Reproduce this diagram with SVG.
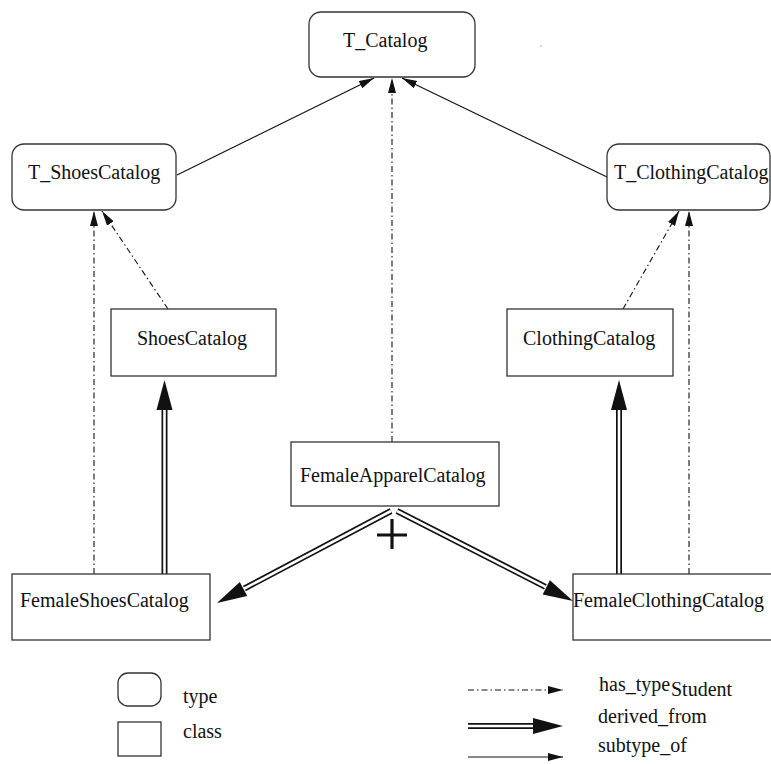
<svg xmlns="http://www.w3.org/2000/svg" width="771" height="764" viewBox="0 0 771 764">
<style>
.box{fill:#fff;stroke:#333;stroke-width:1.3}
.lbl{font-family:"Liberation Serif","Times New Roman",serif;font-size:20px;fill:#111}
.solid{fill:none;stroke:#111;stroke-width:1.2}
.dd{fill:none;stroke:#111;stroke-width:1.1;stroke-dasharray:6 3 1.5 3}
.dblo{fill:none;stroke:#111;stroke-width:6}
.dbli{fill:none;stroke:#fff;stroke-width:2.6}
.head{fill:#111}
</style>
<defs>
<marker id="sa" markerUnits="userSpaceOnUse" markerWidth="16" markerHeight="10" refX="15" refY="4" orient="auto">
<path d="M0,0 L15,4 L0,8 z" fill="#111"/>
</marker>
</defs>
<rect x="0" y="0" width="771" height="764" fill="#fff"/>
<circle cx="541" cy="46" r="0.7" fill="#888"/>

<g id="connectors">
<path class="solid" d="M177,175 L374,78" marker-end="url(#sa)"/>
<path class="solid" d="M607,177 L402,78" marker-end="url(#sa)"/>
<path class="dd" d="M392,442 L392,78" marker-end="url(#sa)"/>
<path class="dd" d="M168,309 L102,211" marker-end="url(#sa)"/>
<path class="dd" d="M94,574 L94,211" marker-end="url(#sa)"/>
<path class="dd" d="M623,309 L679,211" marker-end="url(#sa)"/>
<path class="dd" d="M689,574 L689,211" marker-end="url(#sa)"/>

<path class="dblo" d="M164.5,574 L164.5,409"/>
<path class="dbli" d="M164.5,575 L164.5,408"/>
<polygon class="head" points="164.5,380 156.5,410 172.5,410"/>
<path class="dblo" d="M619,574 L619,409"/>
<path class="dbli" d="M619,575 L619,408"/>
<polygon class="head" points="619,380 611,410 627,410"/>
<path class="dblo" d="M391,511 L244.4,588.5"/>
<path class="dbli" d="M391,511 L243.5,589"/>
<polygon class="head" points="217,603 247.2,596.1 239.8,581.9"/>
<path class="dblo" d="M397,511 L545.4,586.8"/>
<path class="dbli" d="M397,511 L546.3,587.3"/>
<polygon class="head" points="573,601 542.7,594.4 549.9,580.2"/>
<path d="M377,535 L407,535 M392,519 L392,549" stroke="#111" stroke-width="3.2" fill="none"/>
</g>

<g id="T_Catalog"><rect class="box" x="309" y="12" width="166" height="65" rx="12"/><text class="lbl" x="343" y="47">T_Catalog</text></g>
<g id="T_ShoesCatalog"><rect class="box" x="12" y="144" width="164" height="66" rx="12"/><text class="lbl" x="28" y="179">T_ShoesCatalog</text></g>
<g id="T_ClothingCatalog"><rect class="box" x="607" y="144" width="163" height="66" rx="12"/><text class="lbl" x="614" y="179">T_ClothingCatalog</text></g>
<g id="ShoesCatalog"><rect class="box" x="111" y="309" width="165" height="67"/><text class="lbl" x="137" y="345">ShoesCatalog</text></g>
<g id="ClothingCatalog"><rect class="box" x="507" y="309" width="166" height="67"/><text class="lbl" x="523" y="345">ClothingCatalog</text></g>
<g id="FemaleApparelCatalog"><rect class="box" x="291" y="442" width="208" height="64"/><text class="lbl" x="300" y="482">FemaleApparelCatalog</text></g>
<g id="FemaleShoesCatalog"><rect class="box" x="12" y="574" width="198" height="66"/><text class="lbl" x="20" y="607">FemaleShoesCatalog</text></g>
<g id="FemaleClothingCatalog"><rect class="box" x="573" y="574" width="200" height="66"/><text class="lbl" x="573" y="607">FemaleClothingCatalog</text></g>

<g id="legend">
<rect class="box" x="118" y="673" width="43" height="33" rx="10"/>
<text class="lbl" x="183" y="703">type</text>
<rect class="box" x="118" y="722" width="43" height="34"/>
<text class="lbl" x="183" y="738">class</text>
<path class="dd" d="M468,690 L563,690" marker-end="url(#sa)"/>
<text class="lbl" x="599" y="691">has_type</text>
<text class="lbl" x="671" y="696">Student</text>
<path class="dblo" d="M468,726 L534,726"/>
<path class="dbli" d="M466,726 L535,726"/>
<polygon class="head" points="563,726 533,718 533,734"/>
<text class="lbl" x="598" y="723">derived_from</text>
<path class="solid" d="M468,757 L563,757" marker-end="url(#sa)"/>
<text class="lbl" x="598" y="752">subtype_of</text>
</g>
</svg>
